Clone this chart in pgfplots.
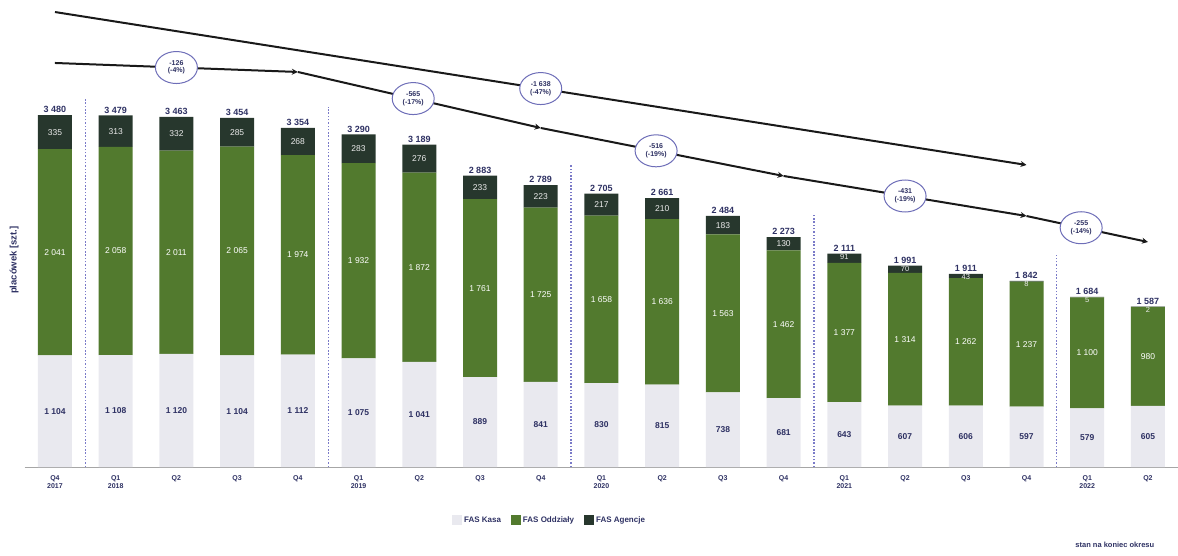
\documentclass[border=0pt]{standalone}
\usepackage{pgfplots}
\pgfplotsset{compat=1.18}
\usepackage{pgfplotstable}
\usepackage{fontspec}
\setmainfont{Liberation Sans}
\usetikzlibrary{arrows.meta,shapes.geometric}
\definecolor{navy}{HTML}{2E3163}
\definecolor{lgray}{HTML}{E9E9EF}
\definecolor{fgreen}{HTML}{527A2E}
\definecolor{dtop}{HTML}{27372D}
\definecolor{sepblue}{HTML}{7A7AC8}
\definecolor{ellb}{HTML}{6E6EB8}

\pgfplotstableread{
x a b c tot
0 1104 2041 335 3480
1 1108 2058 313 3479
2 1120 2011 332 3463
3 1104 2065 285 3454
4 1112 1974 268 3354
5 1075 1932 283 3290
6 1041 1872 276 3189
7 889 1761 233 2883
8 841 1725 223 2789
9 830 1658 217 2705
10 815 1636 210 2661
11 738 1563 183 2484
12 681 1462 130 2273
13 643 1377 91 2111
14 607 1314 70 1991
15 606 1262 43 1911
16 597 1237 8 1842
17 579 1100 5 1684
18 605 980 2 1587
}\data

\begin{document}
\begin{tikzpicture}
\path[use as bounding box] (0,0) rectangle (1178pt,555pt);
\begin{axis}[
  name=main,
  at={(24.6pt,88pt)}, anchor=south west,
  scale only axis, width=1153.7pt, height=467pt,
  xmin=-0.5, xmax=18.5, ymin=0, ymax=4620,
  enlargelimits=false,
  ybar stacked, bar width=34pt,
  axis x line*=bottom, axis y line=none,
  x axis line style={draw=gray!70, line width=1pt, -},
  ytick=\empty,
  xtick={0,...,18},
  xticklabels={{Q4\\2017},{Q1\\2018},Q2,Q3,Q4,{Q1\\2019},Q2,Q3,Q4,{Q1\\2020},Q2,Q3,Q4,{Q1\\2021},Q2,Q3,Q4,{Q1\\2022},Q2},
  xticklabel style={font=\fontsize{7}{8.5}\selectfont\bfseries, text=navy, align=center, yshift=-5pt},
  major tick length=0pt,
  legend style={at={(0.455,-0.1135)}, anchor=center, draw=none, fill=none,
    legend columns=3, font=\fontsize{8}{9}\selectfont\bfseries, text=navy,
    /tikz/every even column/.style={column sep=8pt}},
  legend image code/.code={\fill[#1] (0pt,-4.5pt) rectangle (10pt,5.5pt);},
]
\addplot[fill=lgray, draw=none] table[x=x,y=a]{\data};
\addplot[fill=fgreen, draw=none] table[x=x,y=b]{\data};
\addplot[fill=dtop, draw=none] table[x=x,y=c]{\data};
\legend{FAS Kasa, FAS Oddziały, FAS Agencje}
\end{axis}

\begin{axis}[
  at={(main.south west)}, anchor=south west,
  scale only axis, width=1153.7pt, height=467pt,
  xmin=-0.5, xmax=18.5, ymin=0, ymax=4620,
  enlargelimits=false,
  axis lines=none, clip=false,
  /pgf/number format/assume math mode=true,
  /pgf/number format/1000 sep={\ },
]
% segment labels
\addplot[only marks, mark=*, mark size=0pt, mark options={draw=none,fill=none},
  nodes near coords, point meta=\thisrow{a},
  every node near coord/.append style={anchor=center, font=\fontsize{8.5}{9}\selectfont\bfseries, text=navy}]
  table[x=x, y expr=\thisrow{a}/2]{\data};
\addplot[only marks, mark=*, mark size=0pt, mark options={draw=none,fill=none},
  nodes near coords, point meta=\thisrow{b},
  every node near coord/.append style={anchor=center, font=\fontsize{8.5}{9}\selectfont, text=white}]
  table[x=x, y expr=\thisrow{a}+\thisrow{b}/2]{\data};
\addplot[only marks, mark=*, mark size=0pt, mark options={draw=none,fill=none},
  skip coords between index={13}{19},
  nodes near coords, point meta=\thisrow{c},
  every node near coord/.append style={anchor=center, font=\fontsize{8.5}{9}\selectfont, text=white!85!gray}]
  table[x=x, y expr=\thisrow{a}+\thisrow{b}+\thisrow{c}/2]{\data};
\addplot[only marks, mark=*, mark size=0pt, mark options={draw=none,fill=none},
  skip coords between index={0}{13},
  nodes near coords, point meta=\thisrow{c},
  every node near coord/.append style={anchor=north, inner sep=0.5pt, font=\fontsize{7.5}{8}\selectfont, text=white!85!gray}]
  table[x=x, y=tot]{\data};
% totals
\addplot[only marks, mark=*, mark size=0pt, mark options={draw=none,fill=none},
  nodes near coords, point meta=\thisrow{tot},
  every node near coord/.append style={anchor=south, inner sep=2pt, font=\fontsize{9}{10}\selectfont\bfseries, text=navy}]
  table[x=x, y=tot]{\data};
% separators
\addplot[sepblue, line width=1.2pt, dash pattern=on 1.5pt off 1.8pt] coordinates {(0.5,0) (0.5,3640)};
\addplot[sepblue, line width=1.2pt, dash pattern=on 1.5pt off 1.8pt] coordinates {(4.5,0) (4.5,3560)};
\addplot[sepblue, line width=1.2pt, dash pattern=on 1.5pt off 1.8pt] coordinates {(8.5,0) (8.5,2990)};
\addplot[sepblue, line width=1.2pt, dash pattern=on 1.5pt off 1.8pt] coordinates {(12.5,0) (12.5,2490)};
\addplot[sepblue, line width=1.2pt, dash pattern=on 1.5pt off 1.8pt] coordinates {(16.5,0) (16.5,2100)};
% trend lines
\addplot[black!90, line width=2pt, -{Stealth[length=6pt,width=6pt]}] coordinates {(0,4501) (16,2988)};
\addplot[black!90, line width=2pt, -{Stealth[length=6pt,width=6pt]}] coordinates {(0,3997) (4,3908)};
\addplot[black!90, line width=2pt, -{Stealth[length=6pt,width=6pt]}] coordinates {(4,3908) (8,3354)};
\addplot[black!90, line width=2pt, -{Stealth[length=6pt,width=6pt]}] coordinates {(8,3354) (12,2879)};
\addplot[black!90, line width=2pt, -{Stealth[length=6pt,width=6pt]}] coordinates {(12,2879) (16,2483)};
\addplot[black!90, line width=2pt, -{Stealth[length=6pt,width=6pt]}] coordinates {(16,2483) (18,2226)};
% change labels
\tikzset{chg/.style={ellipse, draw=ellb, fill=white, line width=1pt, inner sep=0pt,
  minimum width=42pt, minimum height=32pt, align=center,
  font=\fontsize{7}{7.5}\selectfont\bfseries, text=navy}}
\node[chg] at (axis cs:2,3952) {-126\\(-4\%)};
\node[chg] at (axis cs:5.9,3645) {-565\\(-17\%)};
\node[chg] at (axis cs:8,3744) {-1 638\\(-47\%)};
\node[chg] at (axis cs:9.9,3128) {-516\\(-19\%)};
\node[chg] at (axis cs:14,2681) {-431\\(-19\%)};
\node[chg] at (axis cs:16.9,2367) {-255\\(-14\%)};
% texts
\node[rotate=90, font=\fontsize{9.5}{10}\selectfont\bfseries, text=navy] at (rel axis cs:-0.009,0.443) {placówek [szt.]};
\node[font=\fontsize{7.5}{8}\selectfont\bfseries, text=navy] at (rel axis cs:0.945,-0.167) {stan na koniec okresu};
\end{axis}
\end{tikzpicture}
\end{document}
